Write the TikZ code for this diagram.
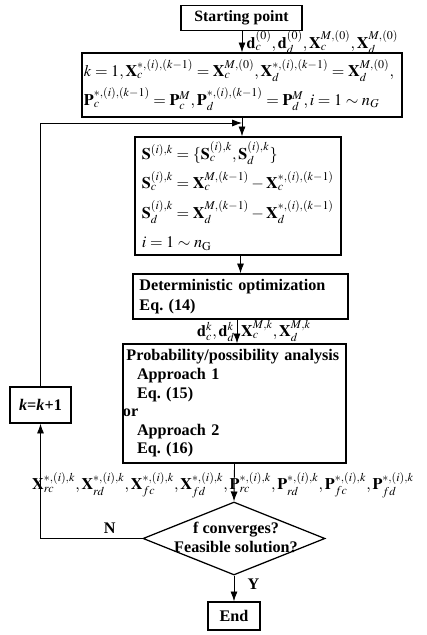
\documentclass[tikz,border=0pt]{standalone}
\usepackage{mathptmx}
\usepackage{fontspec}
\setmainfont{Liberation Serif}
\usetikzlibrary{arrows.meta,shapes.geometric}
\frenchspacing

\begin{document}
\begin{tikzpicture}[x=0.025cm, y=-0.025cm,
    box/.style={draw, rectangle, line width=0.9pt, inner sep=0pt},
    flow/.style={-{Latex[length=7pt,width=5pt]}, line width=0.6pt},
    every node/.style={font=\fontsize{11.5}{14}\selectfont}]
  \useasboundingbox (0,0) rectangle (426,635);

  % Draw the boxes of the main column
  \node[box, minimum width=3.025cm, minimum height=0.625cm, font=\fontsize{11.2}{14}\selectfont\bfseries]
    (start) at (241.5,18) {Starting point};
  \node[box, minimum width=8cm, minimum height=1.6cm, text width=7.9cm, align=left,
    font=\fontsize{11.5}{20.5}\selectfont] (init) at (242,85)
    {$k=1,\mathbf{X}_c^{*,(i),(k-1)}=\mathbf{X}_c^{M,(0)},\mathbf{X}_d^{*,(i),(k-1)}=\mathbf{X}_d^{M,(0)},$\\
     $\mathbf{P}_c^{*,(i),(k-1)}=\mathbf{P}_c^{M},\mathbf{P}_d^{*,(i),(k-1)}=\mathbf{P}_d^{M},i=1\sim n_G$};
  \node[box, minimum width=5.15cm, minimum height=2.95cm, text width=4.8cm, align=left,
    font=\fontsize{11.5}{21}\selectfont] (sdef) at (238,196)
    {$\mathbf{S}^{(i),k}=\{\mathbf{S}_c^{(i),k},\mathbf{S}_d^{(i),k}\}$\\
     $\mathbf{S}_c^{(i),k}=\mathbf{X}_c^{M,(k-1)}-\mathbf{X}_c^{*,(i),(k-1)}$\\
     $\mathbf{S}_d^{(i),k}=\mathbf{X}_d^{M,(k-1)}-\mathbf{X}_d^{*,(i),(k-1)}$\\
     $i=1\sim n_{\mathrm{G}}$};
  \node[box, minimum width=5.375cm, minimum height=1.125cm, text width=5.05cm, align=left,
    font=\fontsize{11.5}{14}\selectfont\bfseries] (det) at (240.5,296.5)
    {Deterministic optimization\\Eq. (14)};
  \node[box, minimum width=5.575cm, minimum height=2.975cm, text width=5.575cm, align=left,
    font=\fontsize{11.5}{13.2}\selectfont\bfseries] (prob) at (234.5,403.5)
    {\hspace*{2.5pt}Probability/possibility analysis\\
     \hspace*{10pt}Approach 1\\
     \hspace*{10pt}Eq. (15)\\
     or\\
     \hspace*{10pt}Approach 2\\
     \hspace*{10pt}Eq. (16)};
  \node[diamond, draw, line width=0.9pt, inner sep=0pt, minimum width=4.55cm,
    minimum height=1.825cm] (conv) at (234,538.5) {};
  \node[align=center, font=\fontsize{11.5}{13.5}\selectfont\bfseries] (convtext) at (236,537)
    {f converges?\\Feasible solution?};
  \node[box, minimum width=1.3cm, minimum height=0.7cm, font=\fontsize{11.5}{14}\selectfont\bfseries]
    (end) at (234,616) {End};
  \node[box, minimum width=1.525cm, minimum height=0.9cm] (inc) at (40.5,405)
    {\textbf{\textit{k}=\textit{k}+1}};

  % Draw the arrows down the column
  \draw[flow] (start.south -| init.north) -- (init.north);
  \draw[flow] (init.south) -- (init.south |- sdef.north);
  \draw[flow] (sdef.south -| det.north) -- (det.north);
  \draw[flow] ([xshift=-2.5pt]det.south) -- ([xshift=-2.5pt]det.south |- prob.north);
  \draw[flow] (prob.south) -- (conv.north);
  \draw[flow] (conv.south) -- (end.north) node[pos=0.35, right=6pt, font=\fontsize{11.5}{14}\selectfont\bfseries] (yes) {Y};

  % Draw the loop back
  \coordinate (join) at (242,123);
  \draw[flow] (conv.west) -| (inc.south) node[pos=0.16, above, font=\fontsize{11.5}{14}\selectfont\bfseries] (no) {N};
  \draw[flow] (inc.north) |- (join);

  % Labels on the arrows
  \node[anchor=west, inner sep=1pt] (initvars) at (245,42)
    {$\mathbf{d}_c^{(0)},\mathbf{d}_d^{(0)},\mathbf{X}_c^{M,(0)},\mathbf{X}_d^{M,(0)}$};
  \node[inner sep=1pt] (detvars) at (254,331)
    {$\mathbf{d}_c^{k},\mathbf{d}_d^{k},\mathbf{X}_c^{M,k},\mathbf{X}_d^{M,k}$};
  \node[inner sep=1pt] (probvars) at (223,485)
    {$\mathbf{X}_{rc}^{*,(i),k},\mathbf{X}_{rd}^{*,(i),k},\mathbf{X}_{fc}^{*,(i),k},\mathbf{X}_{fd}^{*,(i),k},\mathbf{P}_{rc}^{*,(i),k},\mathbf{P}_{rd}^{*,(i),k},\mathbf{P}_{fc}^{*,(i),k},\mathbf{P}_{fd}^{*,(i),k}$};
\end{tikzpicture}
\end{document}
